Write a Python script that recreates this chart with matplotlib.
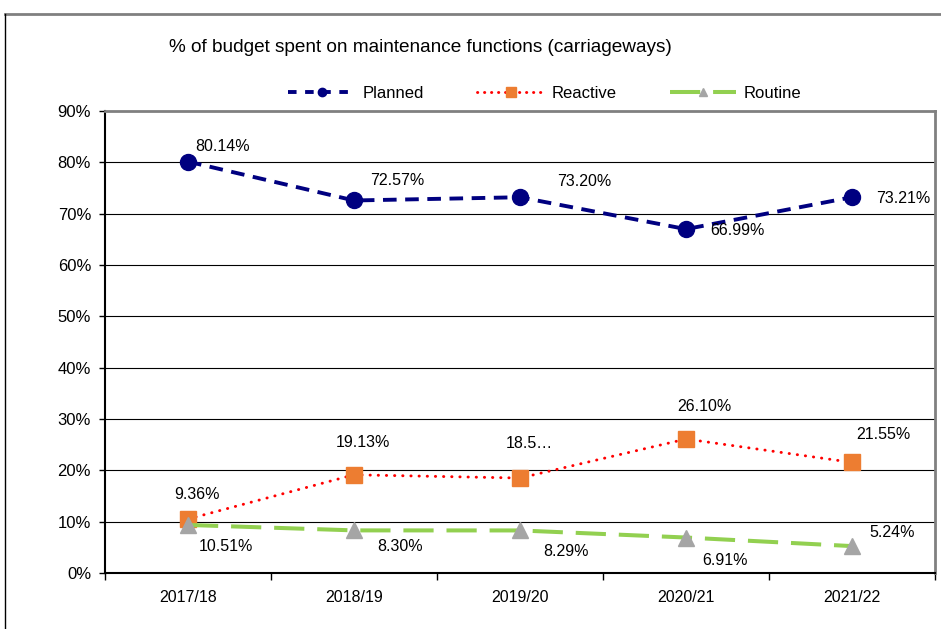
import matplotlib
matplotlib.use("Agg")
import matplotlib.pyplot as plt
from matplotlib.lines import Line2D

plt.rcParams['font.family'] = ['Liberation Sans', 'DejaVu Sans']

categories = ["2017/18", "2018/19", "2019/20", "2020/21", "2021/22"]
planned = [80.14, 72.57, 73.20, 66.99, 73.21]
reactive = [10.51, 19.13, 18.50, 26.10, 21.55]
routine = [9.36, 8.30, 8.29, 6.91, 5.24]
planned_labels = ["80.14%", "72.57%", "73.20%", "66.99%", "73.21%"]
reactive_labels = ["9.36%", "19.13%", "18.5\u2026", "26.10%", "21.55%"]
routine_labels = ["10.51%", "8.30%", "8.29%", "6.91%", "5.24%"]
yticks = [0, 10, 20, 30, 40, 50, 60, 70, 80, 90]
title = "% of budget spent on maintenance functions (carriageways)"

W, H = 941, 629
fig = plt.figure(figsize=(W / 100, H / 100), dpi=100)
ax = fig.add_axes([105 / W, (H - 573) / H, (935 - 105) / W, (573 - 111) / H])

NAVY = "#000080"
RED = "#FF0000"
ORANGE = "#ED7D31"
GRAY = "#A5A5A5"
GREEN = "#92D050"

x = list(range(len(categories)))
ax.plot(x, planned, color=NAVY, lw=2.8, linestyle=(0, (3.5, 2.2)),
        marker='o', markersize=11.5, markerfacecolor=NAVY, markeredgecolor=NAVY, zorder=3)
ax.plot(x, reactive, color=RED, lw=2.1, linestyle=(0, (0.1, 2.7)), dash_capstyle='round',
        marker='s', markersize=11.5, markerfacecolor=ORANGE, markeredgecolor=ORANGE, zorder=3)
ax.plot(x, routine, color=GREEN, lw=2.9, linestyle=(0, (7.5, 3.2)),
        marker='^', markersize=12, markerfacecolor=GRAY, markeredgecolor=GRAY, zorder=4)

fs = 11.5
planned_off = [(35, 15.6), (43, 19.5), (64, 16), (51, -1), (51, -1)]
reactive_off = [(9, 25), (9, 32), (9, 35), (18, 33), (31, 28)]
routine_off = [(38, -22), (46, -16.6), (46, -20.6), (39, -22.5), (40, 14)]
for vals, labs, offs in [(planned, planned_labels, planned_off),
                         (reactive, reactive_labels, reactive_off),
                         (routine, routine_labels, routine_off)]:
    for i, (v, lab, off) in enumerate(zip(vals, labs, offs)):
        ax.annotate(lab, (i, v), xytext=off, textcoords='offset pixels',
                    ha='center', va='center', fontsize=fs, color='black', zorder=5)

ax.set_xlim(-0.5, len(categories) - 0.5)
ax.set_ylim(0, 90)
ax.set_yticks(yticks)
ax.set_yticklabels([f"{t}%" for t in yticks], fontsize=12)
ax.set_xticks(x)
ax.set_xticklabels(categories, fontsize=11.5)
ax.set_xticks([i - 0.5 for i in range(len(categories) + 1)], minor=True)
ax.tick_params(axis='x', which='major', length=0, pad=12)
ax.tick_params(axis='x', which='minor', length=5, width=1, color='black', direction='out')
ax.tick_params(axis='y', which='major', length=4, width=1, color='black', pad=6)

for t in yticks[1:-1]:
    ax.axhline(t, color='black', lw=0.8, zorder=1)

for s in ['left', 'bottom']:
    ax.spines[s].set_color('black')
    ax.spines[s].set_linewidth(1.5)
for s in ['top', 'right']:
    ax.spines[s].set_color('#808080')
    ax.spines[s].set_linewidth(2)

fig.text(420 / W, 1 - 48 / H, title, ha='center', va='center', fontsize=13.7)

handles = [
    Line2D([], [], color=NAVY, lw=2.8, linestyle=(0, (2.2, 2.2)), marker='o', markersize=6,
           markerfacecolor=NAVY, markeredgecolor=NAVY),
    Line2D([], [], color=RED, lw=2.1, linestyle=(0, (0.1, 2.3)), dash_capstyle='round',
           marker='s', markersize=7, markerfacecolor=ORANGE, markeredgecolor=ORANGE),
    Line2D([], [], color=GREEN, lw=2.9, linestyle=(0, (7.5, 3.2)), marker='^', markersize=6,
           markerfacecolor=GRAY, markeredgecolor=GRAY),
]
fig.legend(handles, ["Planned", "Reactive", "Routine"], loc='center',
           bbox_to_anchor=(545 / W, 1 - 93 / H), ncol=3, frameon=False, fontsize=12,
           handlelength=4.0, handletextpad=0.45, columnspacing=3.2)

fig.add_artist(Line2D([5 / W, 1], [1 - 14 / H, 1 - 14 / H], color='#808080', lw=2,
                      transform=fig.transFigure))
fig.add_artist(Line2D([5 / W, 5 / W], [1 - 14 / H, 0], color='black', lw=1,
                      transform=fig.transFigure))

fig.savefig("out.png", dpi=100)
